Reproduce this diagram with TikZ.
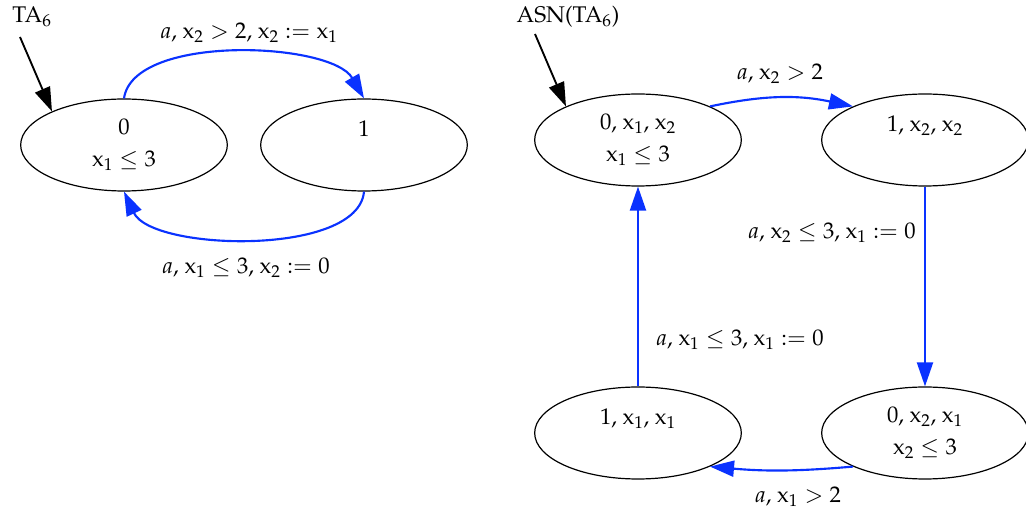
\documentclass[tikz,border=0pt]{standalone}
\usepackage[T1]{fontenc}
\usepackage{amsmath, amssymb}
\usepackage{mathpazo}
\usepackage{tikz}
\usetikzlibrary{shapes.geometric}
\usetikzlibrary{arrows.meta}
\usetikzlibrary{positioning}

\definecolor{edgeblue}{RGB}{10,50,255}
\newcommand{\clk}[1]{\mathrm{x}_{#1}}

\begin{document}
\begin{tikzpicture}[x=0.75pt, y=-0.75pt,
    every node/.style={font=\fontsize{17}{24}\selectfont, inner sep=0pt},
    loc/.style={ellipse, draw=black, line width=0.9pt, minimum width=155pt, minimum height=69pt, align=center},
    trans/.style={draw=edgeblue, line width=1.6pt, -{Triangle[length=18pt, width=12pt]}},
    init/.style={draw=black, line width=1.4pt, -{Triangle[length=18pt, width=12pt]}}]

        % Canvas of the same size as the original
        \useasboundingbox (0, 0) rectangle (1026, 516);

        % Left automaton: locations
        \node[loc] (a0) at (124, 145) {$0$\\ $\clk{1} \leq 3$};
        \node[loc] (a1) at (364, 145) {$1$\\ \phantom{$0$}};

        % Left automaton: name and initial arrow
        \node (ta) at (32, 17) {TA$_6$};
        \coordinate (tain) at (20, 37);
        \draw[init] (tain) -- (a0.155);

        % Left automaton: transitions
        \draw[trans] (a0.north) to[out=82, in=120, looseness=0.7] (a1.north);
        \draw[trans] (a1.south) to[out=-95, in=-65, looseness=0.7] (a0.south);
        \node (lab1) at (249, 33) {$a$, $\clk{2} > 2$, $\clk{2} := \clk{1}$};
        \node (lab2) at (246, 268) {$a$, $\clk{1} \leq 3$, $\clk{2} := 0$};

        % Right automaton: locations
        \node[loc] (b00) at (638, 140) {$0$, $\clk{1}$, $\clk{2}$\\ $\clk{1} \leq 3$};
        \node[loc] (b01) at (925, 140) {$1$, $\clk{2}$, $\clk{2}$\\ \phantom{$0$}};
        \node[loc] (b10) at (638, 433) {$1$, $\clk{1}$, $\clk{1}$\\ \phantom{$0$}};
        \node[loc] (b11) at (925, 433) {$0$, $\clk{2}$, $\clk{1}$\\ $\clk{2} \leq 3$};

        % Right automaton: name and initial arrow
        \node (asn) at (568, 17) {ASN(TA$_6$)};
        \coordinate (asnin) at (535, 34);
        \draw[init] (asnin) -- (b00.155);

        % Right automaton: transitions
        \draw[trans] (b00.25) to[bend left=12] (b01.155);
        \draw[trans] (b01.south) -- (b11.north);
        \draw[trans] (b11.205) to[bend left=5] (b10.335);
        \draw[trans] (b10.north) -- (b00.south);
        \node (lab3) at (780, 74) {$a$, $\clk{2} > 2$};
        \node (lab4) at (832, 233) {$a$, $\clk{2} \leq 3$, $\clk{1} := 0$};
        \node (lab5) at (740, 340) {$a$, $\clk{1} \leq 3$, $\clk{1} := 0$};
        \node (lab6) at (798, 497) {$a$, $\clk{1} > 2$};

      \end{tikzpicture}
\end{document}
